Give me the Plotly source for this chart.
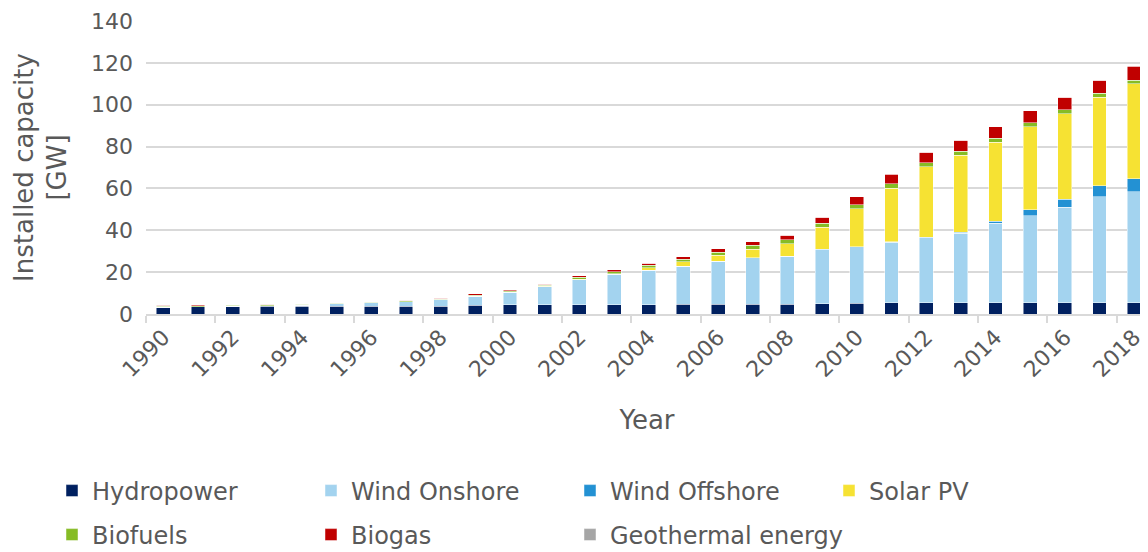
import plotly.graph_objects as go

years = [str(y) for y in range(1990, 2019)]

hydropower = [3.2, 3.4, 3.6, 3.7, 3.7, 3.7, 3.8, 3.8, 3.8, 4.1, 4.4, 4.4, 4.4, 4.5, 4.5,
              4.6, 4.6, 4.7, 4.7, 4.8, 5.2, 5.3, 5.3, 5.3, 5.3, 5.3, 5.3, 5.3, 5.3]
wind_onshore = [0.06, 0.1, 0.2, 0.3, 0.6, 1.1, 1.5, 2.1, 2.9, 4.4, 6.1, 8.7, 12.0, 14.4, 16.4,
                18.2, 20.5, 22.1, 22.8, 26.0, 26.9, 29.0, 31.1, 33.2, 38.0, 41.6, 45.6, 50.7, 53.0]
wind_offshore = [0, 0, 0, 0, 0, 0, 0, 0, 0, 0, 0, 0, 0, 0, 0,
                 0, 0, 0, 0, 0.04, 0.08, 0.19, 0.27, 0.5, 1.0, 2.9, 4.0, 5.3, 6.3]
solar_pv = [0.002, 0.003, 0.006, 0.009, 0.012, 0.018, 0.028, 0.042, 0.054, 0.07, 0.11, 0.18, 0.3, 0.4, 1.1,
            2.1, 2.9, 4.2, 6.1, 10.6, 18.0, 25.7, 33.8, 36.9, 37.8, 39.7, 40.9, 42.3, 45.4]
biofuels = [0.5, 0.4, 0.3, 0.35, 0.3, 0.3, 0.3, 0.3, 0.35, 0.4, 0.4, 0.5, 0.8, 0.9, 1.2,
            1.2, 1.4, 1.8, 1.9, 1.9, 2.1, 2.1, 1.8, 1.8, 1.9, 1.8, 1.9, 1.9, 1.8]
biogas = [0.44, 0.4, 0.3, 0.35, 0.3, 0.3, 0.3, 0.3, 0.4, 0.6, 0.5, 0.5, 0.7, 0.9, 1.1,
          1.3, 1.8, 1.8, 2.1, 3.0, 3.7, 4.6, 5.1, 5.4, 5.4, 5.7, 5.9, 6.2, 6.7]
geothermal = [0, 0, 0, 0, 0, 0, 0, 0, 0, 0, 0, 0, 0, 0.0002, 0.0002,
              0.0002, 0.0007, 0.003, 0.003, 0.008, 0.008, 0.008, 0.012, 0.03, 0.024, 0.033, 0.038, 0.038, 0.042]

series = [
    ("Hydropower", hydropower, "#002060", "legend"),
    ("Wind Onshore", wind_onshore, "#A3D3EF", "legend"),
    ("Wind Offshore", wind_offshore, "#2391D3", "legend"),
    ("Solar PV", solar_pv, "#F6E233", "legend"),
    ("Biofuels", biofuels, "#86BC25", "legend2"),
    ("Biogas", biogas, "#C00000", "legend2"),
    ("Geothermal energy", geothermal, "#A6A6A6", "legend2"),
]

FONT = "DejaVu Sans"
GREY = "#595959"

# page has an 8px body margin: figure is sized/offset to compensate
W, H = 1140, 544
ML, MR, MT, MB = 138, 0, 13, 238
PW, PH = W - ML - MR, H - MT - MB

fig = go.Figure()
for name, vals, color, leg in series:
    fig.add_trace(go.Bar(
        x=years, y=vals, name=name, legend=leg,
        legendwidth=260 if name == "Geothermal energy" else None,
        marker=dict(color=color, line=dict(color="rgba(255,255,255,0.6)", width=0.8)),
    ))

legend_common = dict(
    orientation="h", traceorder="normal", xref="paper", yref="paper",
    xanchor="left", yanchor="middle", entrywidth=214, entrywidthmode="pixels",
    itemwidth=30, font=dict(family=FONT, size=24, color=GREY),
    bgcolor="rgba(0,0,0,0)", itemclick=False,
)
leg_x = (44 - ML) / PW

fig.update_layout(
    width=W, height=H,
    margin=dict(l=ML, r=MR, t=MT, b=MB, autoexpand=False),
    barmode="stack", bargap=0.6,
    plot_bgcolor="white", paper_bgcolor="white",
    font=dict(family=FONT, color=GREY),
    legend=dict(x=leg_x, y=(MT + PH - 483) / PH, **legend_common),
    legend2=dict(x=leg_x, y=(MT + PH - 527) / PH, **legend_common),
    xaxis=dict(
        type="category", range=[-0.5, 28.4], dtick=2, tickson="boundaries",
        ticks="outside", ticklen=7, tickwidth=1.5, tickcolor="#d9d9d9",
        showline=True, linecolor="#d9d9d9", linewidth=1.5,
        tickangle=-45, tickfont=dict(family=FONT, size=22, color=GREY),
        showgrid=False,
        title=dict(text="Year", font=dict(family=FONT, size=26, color=GREY), standoff=30),
    ),
    yaxis=dict(
        range=[0, 140], dtick=20, showgrid=True, gridcolor="#d9d9d9", gridwidth=1.5,
        zeroline=False, showline=False, ticks="", ticklabelstandoff=12,
        tickfont=dict(family=FONT, size=22, color=GREY),
        title=dict(text="Installed capacity<br>[GW]", font=dict(family=FONT, size=26, color=GREY), standoff=16),
    ),
)

fig.write_html("out.html")
